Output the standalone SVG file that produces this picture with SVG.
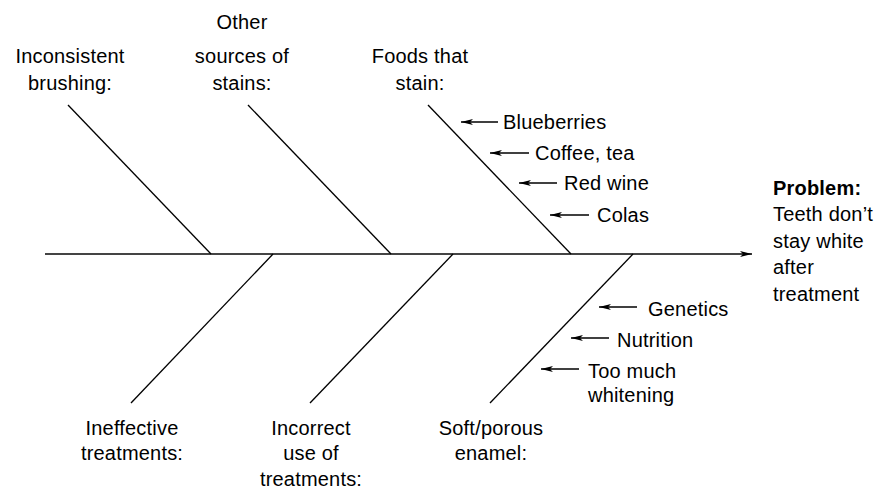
<svg xmlns="http://www.w3.org/2000/svg" width="883" height="489" viewBox="0 0 883 489">
<style>
text{font-family:"Liberation Sans","Arial",sans-serif;font-size:20px;fill:#000;letter-spacing:0.2px}
.c{text-anchor:middle}
.b{font-weight:bold}
.bone{stroke:#000;stroke-width:1.3;fill:none}
.spine{stroke:#444;stroke-width:2;fill:none}
.arr{stroke:#000;stroke-width:1.3;fill:none}
</style>
<defs>
<marker id="ah" viewBox="0 0 12 6" refX="12" refY="3" markerWidth="12" markerHeight="6" markerUnits="userSpaceOnUse" orient="auto">
<path d="M0,0 L12,3 L0,6 L3,3 Z" fill="#000"/>
</marker>
</defs>
<g id="connectors">
<line class="spine" x1="45" y1="254" x2="752" y2="254" marker-end="url(#ah)"/>
<line class="bone" x1="68" y1="105" x2="211" y2="254"/>
<line class="bone" x1="248" y1="105" x2="391" y2="254"/>
<line class="bone" x1="428" y1="105" x2="571" y2="254"/>
<line class="bone" x1="273" y1="254" x2="131" y2="403"/>
<line class="bone" x1="453" y1="254" x2="310" y2="403"/>
<line class="bone" x1="633" y1="254" x2="490" y2="403"/>
<line class="arr" x1="498" y1="122" x2="461" y2="122" marker-end="url(#ah)"/>
<line class="arr" x1="529" y1="153" x2="490" y2="153" marker-end="url(#ah)"/>
<line class="arr" x1="557" y1="183" x2="519" y2="183" marker-end="url(#ah)"/>
<line class="arr" x1="589" y1="215" x2="550" y2="215" marker-end="url(#ah)"/>
<line class="arr" x1="637" y1="307" x2="599" y2="307" marker-end="url(#ah)"/>
<line class="arr" x1="609" y1="338" x2="571" y2="338" marker-end="url(#ah)"/>
<line class="arr" x1="579" y1="369" x2="541" y2="369" marker-end="url(#ah)"/>
</g>
<g id="problem">
<text x="773" y="195" class="b">Problem:</text>
<text x="773" y="221">Teeth don’t</text>
<text x="773" y="248">stay white</text>
<text x="773" y="274">after</text>
<text x="773" y="301">treatment</text>
</g>
<g id="inconsistent-brushing">
<text class="c" x="70" y="63">Inconsistent</text>
<text class="c" x="70" y="90">brushing:</text>
</g>
<g id="other-sources">
<text class="c" x="242" y="29">Other</text>
<text class="c" x="242" y="63">sources of</text>
<text class="c" x="242" y="90">stains:</text>
</g>
<g id="foods-that-stain">
<text class="c" x="420" y="63">Foods that</text>
<text class="c" x="420" y="90">stain:</text>
<text x="503" y="129">Blueberries</text>
<text x="535" y="160">Coffee, tea</text>
<text x="564" y="190">Red wine</text>
<text x="597" y="222">Colas</text>
</g>
<g id="ineffective-treatments">
<text class="c" x="132" y="435">Ineffective</text>
<text class="c" x="132" y="460">treatments:</text>
</g>
<g id="incorrect-use">
<text class="c" x="311" y="435">Incorrect</text>
<text class="c" x="311" y="460">use of</text>
<text class="c" x="311" y="486">treatments:</text>
</g>
<g id="soft-porous-enamel">
<text class="c" x="491" y="435">Soft/porous</text>
<text class="c" x="491" y="460">enamel:</text>
<text x="648" y="316">Genetics</text>
<text x="617" y="347">Nutrition</text>
<text x="588" y="378">Too much</text>
<text x="588" y="402">whitening</text>
</g>
</svg>
